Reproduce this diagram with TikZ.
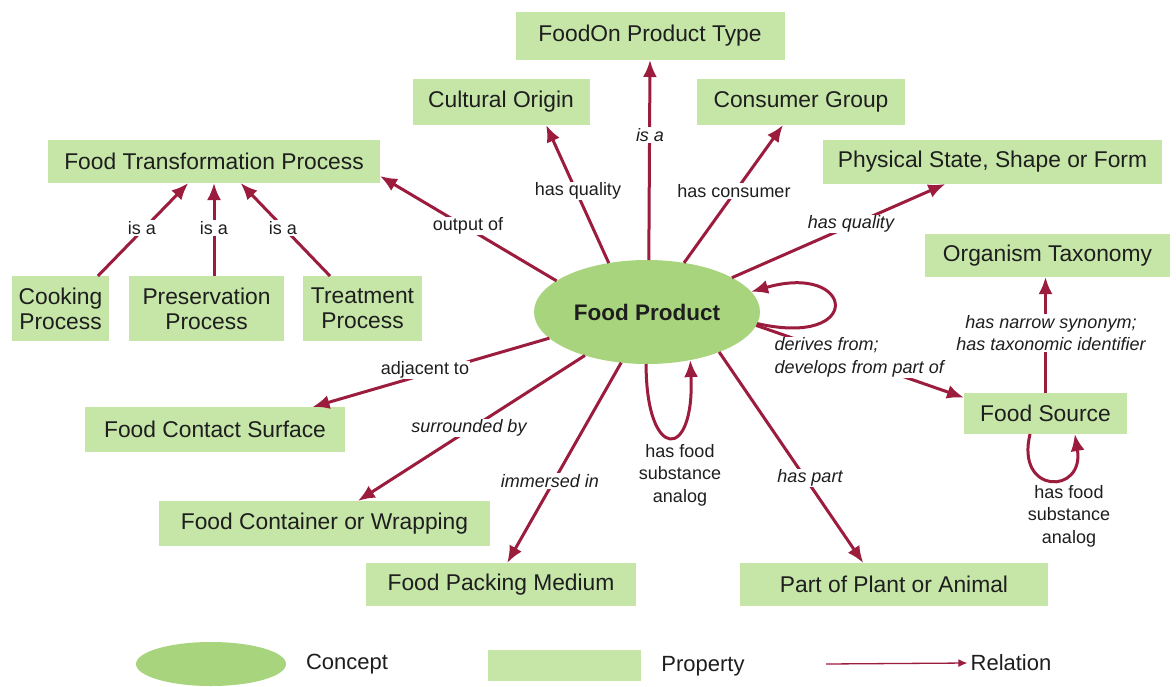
\documentclass[tikz,border=0pt]{standalone}
\usepackage{fontspec}
\setmainfont{Liberation Sans}
\usetikzlibrary{arrows.meta,shapes.geometric}
\definecolor{boxg}{HTML}{C6E6A8}
\definecolor{ellg}{HTML}{A8D47E}
\definecolor{relc}{HTML}{9B1C3D}
\definecolor{txt}{HTML}{1E1E1E}
\begin{document}
\begin{tikzpicture}[x=1pt,y=-1pt,
  box/.style={rectangle, fill=boxg, inner sep=0pt, outer sep=0pt, text=txt,
    font=\fontsize{22.8}{25}\selectfont, align=center},
  relarrow/.style={draw=relc, line width=3pt, -{Latex[length=17pt,width=14pt]}},
  lab/.style={fill=white, inner sep=1pt, text=txt, font=\fontsize{18}{22.5}\selectfont, align=center},
  ilab/.style={lab, font=\fontsize{18}{22.5}\selectfont\itshape},
  legtext/.style={text=txt, font=\fontsize{22}{24}\selectfont, inner sep=3pt},
]
\useasboundingbox (0,0) rectangle (1176,686);
\fill[white] (0,0) rectangle (1176,686);

% concept
\node[ellipse, fill=ellg, minimum width=226pt, minimum height=104pt, inner sep=0pt, outer sep=0pt,
  text=txt, font=\fontsize{22.5}{26}\selectfont\bfseries] (fp) at (647,312) {Food Product};

% properties
\node[box, minimum width=269pt, minimum height=48pt] (fot) at (650,36) {FoodOn Product Type};
\node[box, minimum width=177pt, minimum height=46pt] (co) at (501,102) {Cultural Origin};
\node[box, minimum width=208pt, minimum height=46pt] (cg) at (801,102) {Consumer Group};
\node[box, minimum width=332pt, minimum height=43pt] (ftp) at (214,161.5) {Food Transformation Process};
\node[box, minimum width=339pt, minimum height=44pt] (pssf) at (992.5,162) {Physical State, Shape or Form};
\node[box, minimum width=245pt, minimum height=43pt] (ot) at (1047.5,255.5) {Organism Taxonomy};
\node[box, minimum width=97pt, minimum height=65pt] (cp) at (60.5,308.5) {Cooking\\Process};
\node[box, minimum width=155pt, minimum height=65pt] (pp) at (206.5,308.5) {Preservation\\Process};
\node[box, minimum width=119pt, minimum height=65pt] (tp) at (362.5,308.5) {Treatment\\Process};
\node[box, minimum width=260pt, minimum height=45pt] (fcs) at (215,429.5) {Food Contact Surface};
\node[box, minimum width=163pt, minimum height=41pt] (fs) at (1045.5,413.5) {Food Source};
\node[box, minimum width=331pt, minimum height=45pt] (fcw) at (324.5,523.5) {Food Container or Wrapping};
\node[box, minimum width=270pt, minimum height=43pt] (fpm) at (501,584.5) {Food Packing Medium};
\node[box, minimum width=308pt, minimum height=43pt] (ppa) at (894,584.5) {Part of Plant or Animal};

% relations
\draw[relarrow] (fp.88) -- (fot.south);
\draw[relarrow] (fp.128.7) -- (co.-27.6);
\draw[relarrow] (fp.53) -- (cg.-128);
\draw[relarrow] (fp.161.6) -- (ftp.-5.2);
\draw[relarrow] (fp.22.6) -- (pssf.-155.4);
\draw[relarrow] (fp.195.9) -- (fcs.13);
\draw[relarrow] (fp.215.7) -- (fcw.34);
\draw[relarrow] (fp.243.4) -- (fpm.74.7);
\draw[relarrow] (fp.-29.5) -- (ppa.145.5);
\draw[relarrow] (fp.-7.7) -- (fs.169);
\draw[relarrow] (fp.-6.6) .. controls (865,348) and (855,262) .. (fp.11.8);
\draw[relarrow] (fp.269) .. controls (646,462) and (695,462) .. (fp.-48.6);
\draw[relarrow] (fs.north) -- (fs.north |- ot.south);
\draw[relarrow] (fs.-127.3) .. controls (1015,495) and (1085,495) .. (fs.-35.9);
\draw[relarrow] (cp.41.7) -- (ftp.-140.8);
\draw[relarrow] (pp.north -| ftp.south) -- (ftp.south);
\draw[relarrow] (tp.135) -- (ftp.-39.2);

% labels
\node[ilab] (l1) at (650,135) {is a};
\node[lab] (l2) at (578,191) {has quality};
\node[lab] (l3) at (734,191) {has consumer};
\node[lab] (l4) at (468,226) {output of};
\node[ilab] (l5) at (851,224) {has quality};
\node[lab] (l6) at (425,370) {adjacent to};
\node[ilab] (l7) at (469,428) {surrounded by};
\node[ilab] (l8) at (550,481) {immersed in};
\node[lab, fill=none] (l9) at (680,475) {has food\\substance\\analog};
\node[ilab] (l10) at (810,478) {has part};
\node[ilab, align=left, anchor=west, inner sep=0.5pt] (l11) at (774,357.5) {derives from;\\develops from part of};
\node[ilab] (l12) at (1051,333) {has narrow synonym;\\has taxonomic identifier};
\node[lab, fill=none] (l13) at (1069,516) {has food\\substance\\analog};
\node[lab] (l14) at (142,228) {is a};
\node[lab] (l15) at (214,228) {is a};
\node[lab] (l16) at (283,228) {is a};

% legend
\node[ellipse, fill=ellg, minimum width=150pt, minimum height=44pt, inner sep=0pt] (lc) at (211,664) {};
\node[legtext] (lct) at (347,664) {Concept};
\node[rectangle, fill=boxg, minimum width=153pt, minimum height=31pt, inner sep=0pt] (lp) at (564.5,665) {};
\node[legtext] (lpt) at (703,666) {Property};
\node[legtext] (lrt) at (1011,663) {Relation};
\coordinate (la) at (826,664);
\draw[draw=relc, line width=1.3pt, -{Latex[length=9pt,width=8pt]}] (la) -- (lrt.west);
\end{tikzpicture}
\end{document}
